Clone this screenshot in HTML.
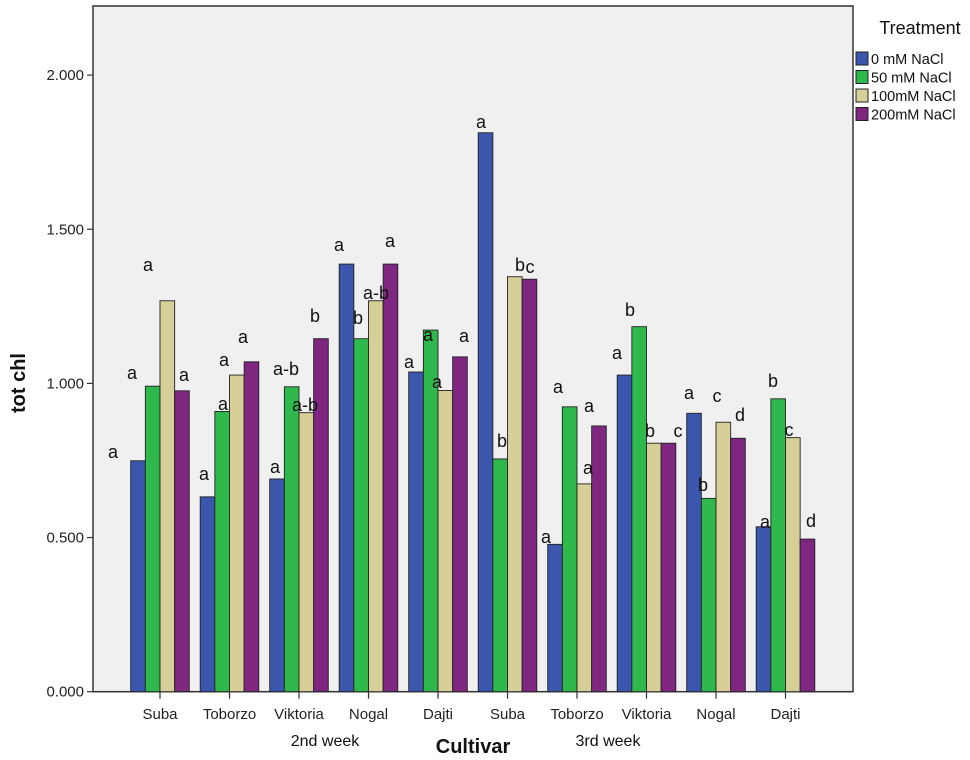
<!DOCTYPE html>
<html><head><meta charset="utf-8"><style>
html,body{margin:0;padding:0;background:#fff;}
svg{display:block;font-family:"Liberation Sans",sans-serif;}
</style></head><body>
<svg id="chart" width="970" height="760"></svg>
<script>
const categories=["Suba","Toborzo","Viktoria","Nogal","Dajti","Suba","Toborzo","Viktoria","Nogal","Dajti"];
const series=["0 mM NaCl","50 mM NaCl","100mM NaCl","200mM NaCl"];
const v0=[0.749,0.632,0.690,1.387,1.037,1.813,0.478,1.027,0.903,0.535];
const v50=[0.991,0.909,0.989,1.145,1.173,0.755,0.924,1.184,0.627,0.950];
const v100=[1.268,1.027,0.905,1.268,0.977,1.346,0.674,0.806,0.874,0.824];
const v200=[0.976,1.070,1.145,1.387,1.086,1.338,0.862,0.806,0.822,0.495];
const yTicks=[0,0.5,1.0,1.5,2.0];
const yTickLabels=["0.000","0.500","1.000","1.500","2.000"];
const letters=[
 [[113,452,"a"],[132,373,"a"],[148,265,"a"],[184,375,"a"]],
 [[204,474,"a"],[223,404,"a"],[224,360,"a"],[243,337,"a"]],
 [[275,467,"a"],[286,369,"a-b"],[305,405,"a-b"],[315,316,"b"]],
 [[339,245,"a"],[358,318,"b"],[376,293,"a-b"],[390,241,"a"]],
 [[409,362,"a"],[428,335,"a"],[437,382,"a"],[464,336,"a"]],
 [[481,122,"a"],[502,441,"b"],[520,265,"b"],[530,267,"c"]],
 [[546,537,"a"],[558,387,"a"],[588,468,"a"],[589,406,"a"]],
 [[617,353,"a"],[630,310,"b"],[650,431,"b"],[678,431,"c"]],
 [[689,393,"a"],[703,485,"b"],[717,396,"c"],[740,415,"d"]],
 [[765,522,"a"],[773,381,"b"],[789,430,"c"],[811,521,"d"]]
];
const values=[v0,v50,v100,v200];
const colors=["#3b56ad","#2fb84b","#d6cf98","#7e2680"];
const NS="http://www.w3.org/2000/svg";
const svg=document.getElementById("chart");
function mk(tag,attrs,parent){const e=document.createElementNS(NS,tag);for(const k in attrs)e.setAttribute(k,attrs[k]);(parent||svg).appendChild(e);return e;}
const X0=93,X1=853,Y0=6,Ybase=691.7,perUnit=308.3;
function y(v){return Ybase-v*perUnit;}
const firstCenter=160,step=69.5,barW=14.65;
function xc(i){return firstCenter+i*step;}
const bg=mk("rect",{x:X0,y:Y0,width:X1-X0,height:Ybase-Y0,fill:"#f0f0f0",stroke:"#333","stroke-width":1.5});


// bars
values.forEach((arr,s)=>{arr.forEach((v,i)=>{
 const r=mk("rect",{x:xc(i)-2*barW+s*barW,y:y(v),width:barW,height:Ybase-y(v),fill:colors[s],stroke:"#222","stroke-width":0.9});
 
 
});});
// y ticks
yTicks.forEach((t,i)=>{
 mk("line",{x1:X0-6,x2:X0,y1:y(t),y2:y(t),stroke:"#333","stroke-width":1.2});
 const tx=mk("text",{x:X0-9,y:y(t)+5,"text-anchor":"end","font-size":15,fill:"#222"});
 tx.textContent=yTickLabels[i];
 
 
});
// x ticks
categories.forEach((c,i)=>{
 mk("line",{x1:xc(i),x2:xc(i),y1:Ybase,y2:Ybase+7,stroke:"#333","stroke-width":1.2});
 const tx=mk("text",{x:xc(i),y:719,"text-anchor":"middle","font-size":15,fill:"#222"});
 tx.textContent=c;
 
 
});
// letters
letters.forEach(g=>g.forEach(([lx,ly,t])=>{
 const tx=mk("text",{x:lx,y:ly+6,"text-anchor":"middle","font-size":18,fill:"#111"});
 tx.textContent=t;
 
 
}));
function label(x,yy,t,size,weight,name,rot){
 const a={x:x,y:yy,"text-anchor":"middle","font-size":size,"font-weight":weight,fill:"#111"};
 if(rot)a.transform="rotate(-90 "+x+" "+yy+")";
 const tx=mk("text",a);tx.textContent=t;
 
 
}
label(325,746,"2nd week",16,"normal","week-label-2nd");
label(608,746,"3rd week",16,"normal","week-label-3rd");
label(473,753,"Cultivar",20,"bold","x-axis-title");
label(25,383,"tot chl",20,"bold","y-axis-title",true);
// legend
label(920,34,"Treatment",18,"normal","legend-title");
series.forEach((s,i)=>{
 const yy=52+i*18.5;
 const r=mk("rect",{x:856,y:yy,width:12,height:13,fill:colors[i],stroke:"#222","stroke-width":1});
 
 
 const tx=mk("text",{x:871,y:yy+12,"font-size":14.5,fill:"#111"});
 tx.textContent=s;
 
 
});
</script>
</body></html>
